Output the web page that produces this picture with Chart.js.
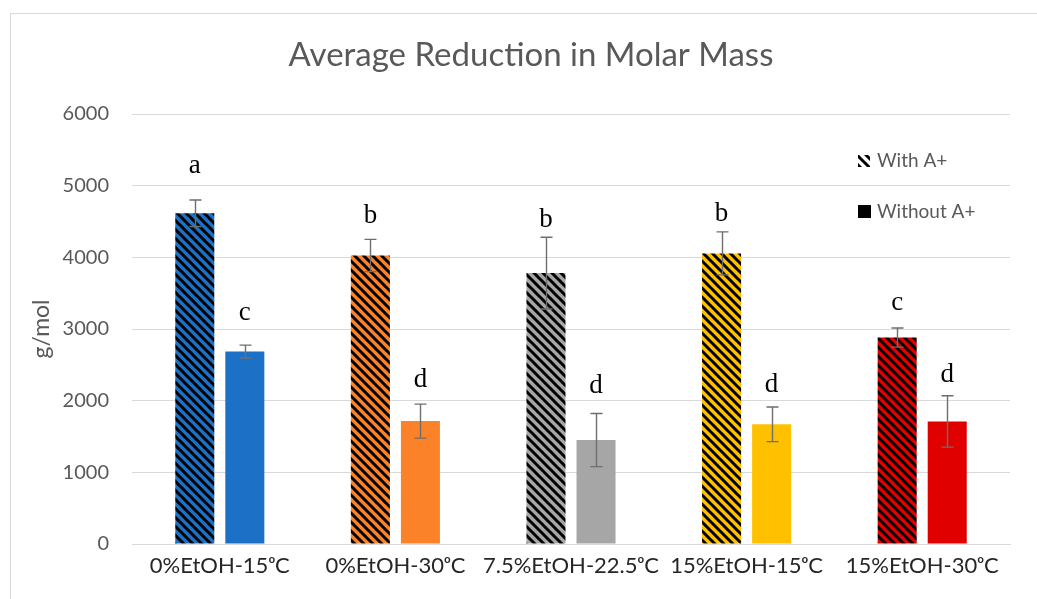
<!DOCTYPE html>
<html>
<head>
<meta charset="utf-8">
<script src="https://cdn.jsdelivr.net/npm/chart.js@4.4.1/dist/chart.umd.min.js"></script>
<style>
  html, body { margin: 0; padding: 0; background: #fff; }
  #wrap { position: relative; width: 1037px; height: 599px; }
</style>
</head>
<body>
<div id="wrap"><canvas id="myChart"></canvas></div>
<script>
// dati
const chartTitle = 'Average Reduction in Molar Mass';
const categories = ['0%EtOH-15ᵒC', '0%EtOH-30ᵒC', '7.5%EtOH-22.5ᵒC', '15%EtOH-15ᵒC', '15%EtOH-30ᵒC'];
const withA = [4615, 4025, 3780, 4055, 2880];
const withoutA = [2685, 1715, 1450, 1670, 1710];
const errWithA = [185, 225, 500, 300, 133];
const errWithoutA = [90, 237, 370, 242, 358];
const lettersWith = ['a', 'b', 'b', 'b', 'c'];
const lettersWithout = ['c', 'd', 'd', 'd', 'd'];
const letterPosWith = [5180, 4480, 4430, 4510, 3265];
const letterPosWithout = [3125, 2195, 2110, 2125, 2265];
const barColors = ['#1C71C6', '#FB8228', '#A6A6A6', '#FFC000', '#E00000'];
const yMin = 0, yMax = 6000, yStep = 1000;

const GRAY = '#595959';

// pattern a righe diagonali
function makeHatch(color) {
  const size = 9;
  const c = document.createElement('canvas');
  c.width = size; c.height = size;
  const g = c.getContext('2d');
  g.fillStyle = color;
  g.fillRect(0, 0, size, size);
  g.strokeStyle = '#000';
  g.lineWidth = 3;
  g.beginPath();
  [-size, 0, size].forEach(o => {
    g.moveTo(o - 1, -1);
    g.lineTo(o + size + 1, size + 1);
  });
  g.stroke();
  return document.getElementById('myChart').getContext('2d').createPattern(c, 'repeat');
}

const hatchColors = barColors.map(makeHatch);
const legendHatch = makeHatch('#fff');

const extras = {
  id: 'extras',
  beforeDraw(chart) {
    const ctx = chart.ctx;
    ctx.save();
    ctx.strokeStyle = '#D9D9D9';
    ctx.lineWidth = 1;
    ctx.strokeRect(10.5, 13.5, 1200, 700);
    // titolo (centrato sul riquadro originale)
    ctx.fillStyle = GRAY;
    ctx.font = '33px Lato';
    ctx.textAlign = 'center';
    ctx.textBaseline = 'middle';
    ctx.fillText(chartTitle, 531, 55);
    ctx.restore();
  },
  afterDatasetsDraw(chart) {
    const ctx = chart.ctx;
    const y = chart.scales.y;
    const sets = [
      [withA, errWithA, lettersWith, letterPosWith],
      [withoutA, errWithoutA, lettersWithout, letterPosWithout]
    ];
    ctx.save();
    sets.forEach((s, di) => {
      const [vals, errs, letters, lpos] = s;
      chart.getDatasetMeta(di).data.forEach((bar, i) => {
        const x = Math.round(bar.x) + 0.5;
        const top = y.getPixelForValue(vals[i] + errs[i]);
        const bot = y.getPixelForValue(vals[i] - errs[i]);
        ctx.strokeStyle = '#6E6E6E';
        ctx.lineWidth = 1.4;
        ctx.beginPath();
        ctx.moveTo(x, top); ctx.lineTo(x, bot);
        ctx.moveTo(x - 6, top); ctx.lineTo(x + 6, top);
        ctx.moveTo(x - 6, bot); ctx.lineTo(x + 6, bot);
        ctx.stroke();
        // lettere di significatività
        ctx.fillStyle = '#000';
        ctx.font = '27px "Liberation Serif"';
        ctx.textAlign = 'center';
        ctx.textBaseline = 'alphabetic';
        ctx.fillText(letters[i], bar.x, y.getPixelForValue(lpos[i]));
      });
    });
    ctx.restore();
  },
  afterDraw(chart) {
    // legenda dentro l'area del grafico
    const ctx = chart.ctx;
    const a = chart.chartArea;
    const lx = a.right - 152;
    const ly = a.top + 47;
    ctx.save();
    ctx.fillStyle = legendHatch;
    ctx.fillRect(lx, ly - 6, 12, 12);
    ctx.fillStyle = '#000';
    ctx.fillRect(lx, ly + 44, 13, 13);
    ctx.fillStyle = GRAY;
    ctx.font = '19px Lato';
    ctx.textAlign = 'left';
    ctx.textBaseline = 'middle';
    ctx.fillText(chart.data.datasets[0].label, lx + 19, ly);
    ctx.fillText(chart.data.datasets[1].label, lx + 19, ly + 51);
    ctx.restore();
  }
};

new Chart(document.getElementById('myChart'), {
  type: 'bar',
  data: {
    labels: categories,
    datasets: [
      { label: 'With A+', data: withA, backgroundColor: hatchColors, borderWidth: 0 },
      { label: 'Without A+', data: withoutA, backgroundColor: barColors, borderWidth: 0 }
    ]
  },
  options: {
    responsive: true,
    maintainAspectRatio: false,
    animation: false,
    layout: { padding: { left: 10, right: 27, top: 114, bottom: 0 } },
    categoryPercentage: 0.57,
    barPercentage: 0.78,
    plugins: {
      legend: { display: false },
      tooltip: { enabled: false },
      title: { display: false }
    },
    scales: {
      x: {
        grid: { display: false, drawTicks: false },
        border: { display: true, color: '#D9D9D9', width: 1 },
        ticks: {
          color: '#262626',
          font: { family: 'Lato', size: 22 },
          padding: 9,
          maxRotation: 0,
          autoSkip: false
        },
        afterFit(scale) { scale.height = 55; }
      },
      y: {
        min: yMin,
        max: yMax,
        grid: { color: '#D9D9D9', drawTicks: false },
        border: { display: false },
        ticks: {
          stepSize: yStep,
          color: GRAY,
          font: { family: 'Lato', size: 20 },
          padding: 23,
          callback: v => String(v)
        },
        title: {
          display: true,
          text: 'g/mol',
          color: GRAY,
          font: { family: 'Lato', size: 23 },
          padding: { top: 18, bottom: 0 }
        },
        afterFit(scale) { scale.width = 122; }
      }
    }
  },
  plugins: [extras]
});
</script>
</body>
</html>
